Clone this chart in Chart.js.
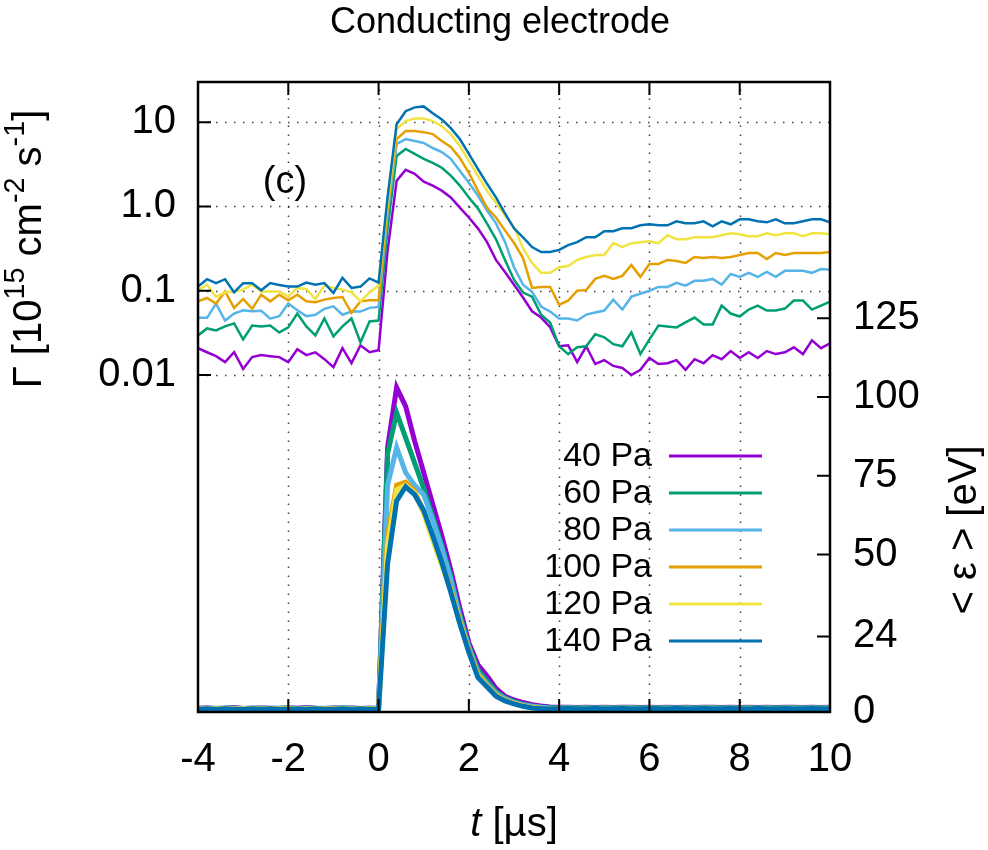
<!DOCTYPE html>
<html>
<head>
<meta charset="utf-8">
<title>Conducting electrode</title>
<script src="https://cdn.jsdelivr.net/npm/chart.js@4.4.1/dist/chart.umd.min.js"></script>
<style>
  html, body { margin: 0; padding: 0; background: #fff; }
  canvas { display: block; }
</style>
</head>
<body>
<canvas id="fluxChart" width="988" height="850"></canvas>
<script>
// time axis (µs)
const times = [-4, -3.8, -3.6, -3.4, -3.2, -3, -2.8, -2.6, -2.4, -2.2, -2, -1.8, -1.6, -1.4, -1.2, -1, -0.8, -0.6, -0.4, -0.2,
  0, 0.2, 0.4, 0.6, 0.8, 1, 1.2, 1.4, 1.6, 1.8, 2, 2.2, 2.4, 2.6, 2.8, 3, 3.2, 3.4, 3.6, 3.8,
  4, 4.2, 4.4, 4.6, 4.8, 5, 5.2, 5.4, 5.6, 5.8, 6, 6.2, 6.4, 6.6, 6.8, 7, 7.2, 7.4, 7.6, 7.8,
  8, 8.2, 8.4, 8.6, 8.8, 9, 9.2, 9.4, 9.6, 9.8, 10];

const pressures = ['40 Pa', '60 Pa', '80 Pa', '100 Pa', '120 Pa', '140 Pa'];
const colors = ['#9400d3', '#009e73', '#56b4e9', '#e69f00', '#f0e442', '#0072b2'];

// flux Γ [1e15 cm^-2 s^-1] (log axis)
const flux40 = [0.0208, 0.0186, 0.0167, 0.0142, 0.0186, 0.0118, 0.0163, 0.0172, 0.0167, 0.0163, 0.0142, 0.0202, 0.0172, 0.0186, 0.0154, 0.0124, 0.0208, 0.0138, 0.0225, 0.0186,
  0.0197, 0.30, 2.02, 2.72, 2.44, 1.97, 1.77, 1.54, 1.28, 0.97, 0.74, 0.55, 0.38, 0.232, 0.167, 0.118, 0.083, 0.057, 0.048, 0.037,
  0.022, 0.0225, 0.0142, 0.0219, 0.0135, 0.0150, 0.0128, 0.0121, 0.0100, 0.0115, 0.0159, 0.0135, 0.0138, 0.0150, 0.0115, 0.0154, 0.0138, 0.0172, 0.0154, 0.0192,
  0.0159, 0.0186, 0.0159, 0.0192, 0.0177, 0.0186, 0.0213, 0.0177, 0.0258, 0.0208, 0.0238];
const flux60 = [0.0295, 0.0357, 0.0338, 0.0377, 0.0409, 0.0265, 0.0387, 0.0377, 0.0387, 0.0320, 0.0367, 0.0536, 0.0377, 0.0295, 0.0468, 0.0287, 0.0377, 0.0468, 0.0244, 0.0432,
  0.0443, 0.55, 3.98, 4.81, 4.2, 3.67, 3.29, 2.88, 2.32, 1.77, 1.28, 0.95, 0.63, 0.41, 0.232, 0.135, 0.095, 0.085, 0.052, 0.042,
  0.0219, 0.0177, 0.0213, 0.0219, 0.0304, 0.028, 0.0232, 0.0219, 0.032, 0.0177, 0.0265, 0.0387, 0.0377, 0.0367, 0.042, 0.048, 0.0398, 0.0398, 0.0666, 0.0536,
  0.0494, 0.0598, 0.0666, 0.0582, 0.0582, 0.0614, 0.0763, 0.0763, 0.0598, 0.0666, 0.0742];
const flux80 = [0.0477, 0.0477, 0.0703, 0.0443, 0.0536, 0.0586, 0.0571, 0.0577, 0.0465, 0.0499, 0.0703, 0.0586, 0.0499, 0.0518, 0.061, 0.0653, 0.0518, 0.0566, 0.0566, 0.0626,
  0.0643, 0.8, 5.51, 6.31, 5.97, 5.66, 4.94, 4.43, 3.67, 2.65, 1.91, 1.35, 0.90, 0.63, 0.38, 0.19, 0.118, 0.097, 0.065, 0.0566,
  0.0468, 0.0468, 0.0443, 0.052, 0.0551, 0.0582, 0.0784, 0.0598, 0.085, 0.092, 0.1, 0.111, 0.111, 0.124, 0.115, 0.131, 0.131, 0.138, 0.118, 0.158,
  0.146, 0.163, 0.146, 0.167, 0.146, 0.172, 0.172, 0.172, 0.163, 0.181, 0.177];
const flux100 = [0.0748, 0.082, 0.0703, 0.098, 0.0626, 0.0798, 0.061, 0.0897, 0.0748, 0.0897, 0.0769, 0.0897, 0.0748, 0.0728, 0.0784, 0.082, 0.0843, 0.0547, 0.0748, 0.0769,
  0.0769, 0.95, 6.31, 7.84, 7.84, 7.62, 7.22, 5.97, 5.08, 3.77, 2.51, 1.54, 0.97, 0.74, 0.52, 0.37, 0.244, 0.108, 0.111, 0.111,
  0.0684, 0.0763, 0.1, 0.102, 0.138, 0.150, 0.138, 0.150, 0.202, 0.146, 0.208, 0.208, 0.232, 0.225, 0.214, 0.251, 0.244, 0.251, 0.244, 0.251,
  0.265, 0.28, 0.28, 0.238, 0.28, 0.265, 0.28, 0.28, 0.28, 0.28, 0.288];
const flux120 = [0.101, 0.118, 0.0843, 0.0955, 0.098, 0.103, 0.118, 0.098, 0.098, 0.098, 0.0857, 0.108, 0.105, 0.0798, 0.115, 0.108, 0.103, 0.0955, 0.0748, 0.0955,
  0.115, 1.1, 8.27, 10.3, 11.1, 11.1, 10.3, 8.97, 7.22, 5.22, 3.48, 2.32, 1.54, 1.11, 0.78, 0.57, 0.32, 0.214, 0.163, 0.163,
  0.19, 0.196, 0.232, 0.251, 0.265, 0.265, 0.367, 0.33, 0.367, 0.377, 0.387, 0.367, 0.456, 0.409, 0.409, 0.432, 0.432, 0.432, 0.456, 0.481,
  0.469, 0.444, 0.444, 0.481, 0.456, 0.481, 0.481, 0.444, 0.481, 0.481, 0.469];
const flux140 = [0.112, 0.137, 0.123, 0.137, 0.0955, 0.123, 0.123, 0.101, 0.123, 0.117, 0.112, 0.112, 0.125, 0.118, 0.123, 0.094, 0.142, 0.108, 0.112, 0.14,
  0.125, 1.3, 9.47, 13.5, 15.0, 15.4, 12.8, 10.8, 8.5, 6.31, 4.2, 2.8, 1.87, 1.28, 0.83, 0.55, 0.43, 0.33, 0.288, 0.288,
  0.305, 0.348, 0.377, 0.432, 0.432, 0.508, 0.508, 0.551, 0.551, 0.597, 0.614, 0.597, 0.597, 0.666, 0.631, 0.631, 0.666, 0.582, 0.666, 0.614,
  0.703, 0.703, 0.666, 0.648, 0.703, 0.631, 0.631, 0.666, 0.703, 0.703, 0.648];

// mean energy <ε> [eV] (right axis)
const energy40 = [1.2, 1.3, 1.1, 1.2, 1.4, 1.1, 1.2, 1.3, 1.2, 1.1, 1.3, 1.2, 1.4, 1.2, 1.1, 1.3, 1.2, 1.3, 1.1, 1.2,
  1.2, 84, 103, 97, 86, 76, 66, 56, 45, 33, 22, 15, 11.5, 7.5, 5, 3.8, 3, 2.3, 1.9, 1.6,
  1.5, 1.5, 1.4, 1.5, 1.4, 1.5, 1.4, 1.5, 1.5, 1.4, 1.5, 1.4, 1.5, 1.4, 1.5, 1.4, 1.5, 1.5, 1.4, 1.5,
  1.4, 1.5, 1.4, 1.5, 1.4, 1.5, 1.5, 1.4, 1.5, 1.4, 1.5];
const energy60 = [1.1, 1.2, 1.1, 1.3, 1.2, 1.1, 1.2, 1.2, 1.1, 1.2, 1.3, 1.1, 1.2, 1.2, 1.1, 1.2, 1.3, 1.2, 1.1, 1.2,
  1.1, 82, 95, 87, 79, 71, 62, 53, 43, 31, 21, 13.5, 10, 6.5, 4.5, 3.3, 2.5, 1.9, 1.6, 1.4,
  1.3, 1.4, 1.3, 1.4, 1.3, 1.4, 1.3, 1.4, 1.4, 1.3, 1.4, 1.3, 1.4, 1.3, 1.4, 1.3, 1.4, 1.4, 1.3, 1.4,
  1.3, 1.4, 1.3, 1.4, 1.3, 1.4, 1.4, 1.3, 1.4, 1.3, 1.4];
const energy80 = [1.1, 1.1, 1.2, 1.1, 1.2, 1.1, 1.1, 1.2, 1.1, 1.2, 1.1, 1.1, 1.2, 1.1, 1.2, 1.1, 1.1, 1.2, 1.1, 1.1,
  1.1, 72, 84, 76, 72, 69, 61, 52, 42, 30, 20.5, 12.5, 9, 6, 4.2, 3, 2.3, 1.8, 1.5, 1.3,
  1.2, 1.3, 1.2, 1.3, 1.2, 1.3, 1.2, 1.3, 1.3, 1.2, 1.3, 1.2, 1.3, 1.2, 1.3, 1.2, 1.3, 1.3, 1.2, 1.3,
  1.2, 1.3, 1.2, 1.3, 1.2, 1.3, 1.3, 1.2, 1.3, 1.2, 1.3];
const energy100 = [1.0, 1.1, 1.0, 1.1, 1.0, 1.1, 1.0, 1.0, 1.1, 1.0, 1.1, 1.0, 1.0, 1.1, 1.0, 1.1, 1.0, 1.0, 1.1, 1.0,
  1.0, 56, 72, 73, 70, 63.5, 55, 47, 39, 29, 19.5, 12, 8.5, 5.5, 3.8, 2.8, 2, 1.5, 1.2, 1.1,
  1.1, 1.2, 1.1, 1.2, 1.1, 1.2, 1.1, 1.2, 1.2, 1.1, 1.2, 1.1, 1.2, 1.1, 1.2, 1.1, 1.2, 1.2, 1.1, 1.2,
  1.1, 1.2, 1.1, 1.2, 1.1, 1.2, 1.2, 1.1, 1.2, 1.1, 1.2];
const energy120 = [1.0, 1.0, 1.1, 1.0, 1.0, 1.1, 1.0, 1.0, 1.0, 1.1, 1.0, 1.0, 1.1, 1.0, 1.0, 1.0, 1.1, 1.0, 1.0, 1.0,
  1.0, 53, 70.5, 72, 69.5, 63, 54.5, 46.5, 38.5, 28.5, 19, 11.5, 8.2, 5.2, 3.6, 2.7, 1.9, 1.4, 1.2, 1.1,
  1.0, 1.1, 1.0, 1.1, 1.0, 1.1, 1.0, 1.1, 1.1, 1.0, 1.1, 1.0, 1.1, 1.0, 1.1, 1.0, 1.1, 1.1, 1.0, 1.1,
  1.0, 1.1, 1.0, 1.1, 1.0, 1.1, 1.1, 1.0, 1.1, 1.0, 1.1];
const energy140 = [0.9, 1.0, 0.9, 1.0, 0.9, 0.9, 1.0, 0.9, 1.0, 0.9, 0.9, 1.0, 0.9, 1.0, 0.9, 0.9, 1.0, 0.9, 1.0, 0.9,
  0.9, 47, 67, 71.5, 69, 64, 56, 47.5, 38, 28, 19, 11, 8, 5, 3.5, 2.6, 1.8, 1.3, 1.1, 1.0,
  1.0, 1.1, 1.0, 1.0, 1.1, 1.0, 1.0, 1.1, 1.0, 1.0, 1.1, 1.0, 1.0, 1.1, 1.0, 1.0, 1.1, 1.0, 1.0, 1.1,
  1.0, 1.0, 1.1, 1.0, 1.0, 1.1, 1.0, 1.0, 1.1, 1.0, 1.0];

const xTicks = [-4, -2, 0, 2, 4, 6, 8, 10];
const fluxTicks = [0.01, 0.1, 1, 10];
const fluxTickLabels = ['0.01', '0.1', '1.0', '10'];
const energyTicks = [0, 24, 50, 75, 100, 125];
const energyTickLabels = ['0', '24', '50', '75', '100', '125'];

const fluxSeries = [flux40, flux60, flux80, flux100, flux120, flux140];
const energySeries = [energy40, energy60, energy80, energy100, energy120, energy140];

const FONT = '"Liberation Sans", Arial, sans-serif';
const toPoints = arr => arr.map((v, i) => ({ x: times[i], y: v }));

const datasets = [];
fluxSeries.forEach((s, i) => {
    datasets.push({
        label: pressures[i] + ' flux',
        data: toPoints(s),
        yAxisID: 'y',
        borderColor: colors[i],
        borderWidth: 2.5,
        pointRadius: 0,
        tension: 0,
        order: 20 - i
    });
});
energySeries.forEach((s, i) => {
    datasets.push({
        label: pressures[i] + ' energy',
        data: toPoints(s),
        yAxisID: 'y2',
        borderColor: colors[i],
        borderWidth: 5,
        pointRadius: 0,
        tension: 0,
        order: 10 - i
    });
});

// draws a (possibly superscripted) label centred on the current origin
function drawRuns(ctx, runs, size) {
    ctx.textAlign = 'left';
    ctx.textBaseline = 'middle';
    let total = 0;
    runs.forEach(r => {
        ctx.font = (r.italic ? 'italic ' : '') + (r.sup ? size * 0.72 : size) + 'px ' + FONT;
        r.w = ctx.measureText(r.text).width;
        total += r.w;
    });
    let x = -total / 2;
    runs.forEach(r => {
        ctx.font = (r.italic ? 'italic ' : '') + (r.sup ? size * 0.72 : size) + 'px ' + FONT;
        ctx.fillText(r.text, x, r.sup ? -size * 0.36 : 0);
        x += r.w;
    });
}

const gnuplotFrame = {
    id: 'gnuplotFrame',
    beforeDatasetsDraw(chart) {
        const { ctx, chartArea: a, scales } = chart;
        ctx.save();
        ctx.strokeStyle = 'rgba(0,0,0,0.75)';
        ctx.lineWidth = 1.5;
        ctx.setLineDash([1.5, 7.5]);
        xTicks.forEach(v => {
            if (v <= -4 || v >= 10) return;
            const px = Math.round(scales.x.getPixelForValue(v)) + 0.5;
            ctx.beginPath(); ctx.moveTo(px, a.bottom); ctx.lineTo(px, a.top); ctx.stroke();
        });
        fluxTicks.forEach(v => {
            const py = Math.round(scales.y.getPixelForValue(v)) + 0.5;
            ctx.beginPath(); ctx.moveTo(a.left, py); ctx.lineTo(a.right, py); ctx.stroke();
        });
        ctx.restore();
    },
    afterDatasetsDraw(chart) {
        const { ctx, chartArea: a, scales } = chart;
        ctx.save();
        ctx.strokeStyle = '#000';
        ctx.fillStyle = '#000';

        // tick marks (inward, mirrored on top)
        const tl = 13;
        ctx.lineWidth = 2;
        ctx.beginPath();
        xTicks.forEach(v => {
            const px = scales.x.getPixelForValue(v);
            ctx.moveTo(px, a.bottom); ctx.lineTo(px, a.bottom - tl);
            ctx.moveTo(px, a.top); ctx.lineTo(px, a.top + tl);
        });
        fluxTicks.forEach(v => {
            const py = scales.y.getPixelForValue(v);
            ctx.moveTo(a.left, py); ctx.lineTo(a.left + tl, py);
        });
        energyTicks.forEach(v => {
            const py = scales.y2.getPixelForValue(v);
            ctx.moveTo(a.right, py); ctx.lineTo(a.right - tl, py);
        });
        ctx.stroke();

        // frame
        ctx.lineWidth = 2.5;
        ctx.strokeRect(a.left, a.top, a.right - a.left, a.bottom - a.top);

        // title
        ctx.textAlign = 'center';
        ctx.textBaseline = 'alphabetic';
        ctx.font = '36px ' + FONT;
        ctx.fillText('Conducting electrode', 500, 33);

        // panel tag
        ctx.font = '38px ' + FONT;
        ctx.textBaseline = 'middle';
        ctx.fillText('(c)', 285, 183);

        // axis titles
        ctx.save();
        ctx.translate(30, 249);
        ctx.rotate(-Math.PI / 2);
        drawRuns(ctx, [
            { text: 'Γ [10' }, { text: '15', sup: true }, { text: ' cm' }, { text: '-2', sup: true },
            { text: ' s' }, { text: '-1', sup: true }, { text: ']' }
        ], 40);
        ctx.restore();

        ctx.save();
        ctx.translate(965, 530);
        ctx.rotate(-Math.PI / 2);
        drawRuns(ctx, [{ text: '< ε > [eV]' }], 40);
        ctx.restore();

        ctx.save();
        ctx.translate(514, 825);
        drawRuns(ctx, [{ text: 't', italic: true }, { text: ' [µs]' }], 40);
        ctx.restore();

        // key
        ctx.font = '34px ' + FONT;
        ctx.textAlign = 'right';
        ctx.textBaseline = 'middle';
        ctx.lineWidth = 3;
        pressures.forEach((p, i) => {
            const yy = 456 + i * 37;
            ctx.fillStyle = '#000';
            ctx.fillText(p, 652, yy + 1);
            ctx.strokeStyle = colors[i];
            ctx.beginPath(); ctx.moveTo(669, yy); ctx.lineTo(762, yy); ctx.stroke();
        });
        ctx.restore();
    }
};

const tickFont = { family: FONT, size: 40 };

new Chart(document.getElementById('fluxChart').getContext('2d'), {
    type: 'line',
    data: { datasets: datasets },
    options: {
        responsive: false,
        animation: false,
        devicePixelRatio: 1,
        layout: { padding: { top: 82, left: 0, right: 0, bottom: 0 } },
        plugins: { legend: { display: false }, tooltip: { enabled: false }, title: { display: false } },
        scales: {
            x: {
                type: 'linear', min: -4, max: 10,
                afterBuildTicks: s => { s.ticks = xTicks.map(v => ({ value: v })); },
                afterFit: s => { s.height = 138; },
                ticks: { font: tickFont, color: '#000', padding: 24, autoSkip: false, maxRotation: 0 },
                grid: { display: false, drawTicks: false },
                border: { display: false }
            },
            y: {
                type: 'logarithmic', position: 'left', min: 1e-6, max: 30,
                afterBuildTicks: s => { s.ticks = fluxTicks.map(v => ({ value: v })); },
                afterFit: s => { s.width = 198; },
                ticks: { font: tickFont, color: '#000', padding: 22, autoSkip: false,
                    callback: (v, i) => fluxTickLabels[i] },
                grid: { display: false, drawTicks: false },
                border: { display: false }
            },
            y2: {
                type: 'linear', position: 'right', min: 0, max: 200,
                afterBuildTicks: s => { s.ticks = energyTicks.map(v => ({ value: v })); },
                afterFit: s => { s.width = 158; },
                ticks: { font: tickFont, color: '#000', padding: 23, autoSkip: false,
                    callback: (v, i) => energyTickLabels[i] },
                grid: { display: false, drawTicks: false },
                border: { display: false }
            }
        }
    },
    plugins: [gnuplotFrame]
});
</script>
</body>
</html>
